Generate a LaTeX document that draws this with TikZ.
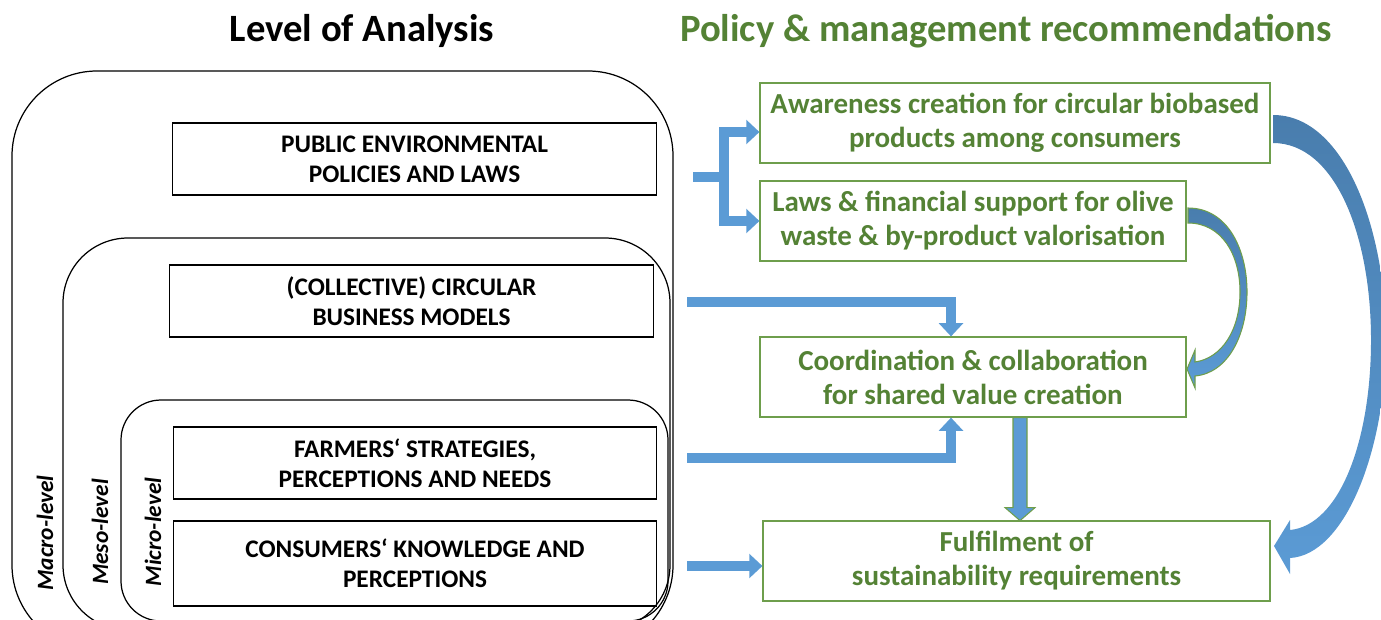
\documentclass[tikz,border=0pt]{standalone}
\usepackage{fontspec}
\setmainfont{Carlito}
\usepackage{tikz}
\usetikzlibrary{positioning,arrows.meta,calc}
\definecolor{flowblue}{HTML}{5B9BD5}
\definecolor{flowdark}{HTML}{497DAD}
\definecolor{recgreen}{HTML}{548235}
\definecolor{recline}{HTML}{6E9E4C}
\tikzset{
    block/.style = {
        draw,
        shape=rectangle,
        minimum height=1.44cm,
        minimum width=9.68cm,
        inner sep=0pt,
        align=center,
        line width=0.6pt,
        font=\fontsize{14.4}{17.2}\selectfont\bfseries
    },
    rec/.style = {
        draw=recline,
        text=recgreen,
        shape=rectangle,
        minimum height=1.6cm,
        inner sep=0pt,
        align=center,
        line width=0.7pt,
        font=\fontsize{16.5}{19.4}\selectfont\bfseries
    },
    frame/.style = {
        draw,
        line width=0.7pt
    },
    level/.style = {
        rotate=90,
        font=\fontsize{13.3}{15}\selectfont\bfseries\itshape
    },
    heading/.style = {
        font=\fontsize{22}{26}\selectfont\bfseries
    },
    flowbar/.style = {
        draw=flowblue,
        line width=5.7pt
    },
    flow/.style = {
        flowbar,
        -{Triangle[width=13.5pt,length=7.5pt]}
    },
}

\begin{document}
\begin{tikzpicture}[x=0.02cm,y=-0.02cm]
                \useasboundingbox (0,0) rectangle (1381,619);

                \node[heading] (lhead) at (362,31) {Level of Analysis};
                \node[heading, text=recgreen] (rhead) at (1006,31) {Policy \& management recommendations};

                % levels of analysis
                \begin{scope}
                    \clip (0,0) rectangle (1381,619);
                    \path[frame, rounded corners=1.7cm] (12,71) rectangle (673,650);
                    \path[frame, rounded corners=1.3cm] (63,238) rectangle (670,630);
                    \path[frame, rounded corners=0.8cm] (121,400) rectangle (668,621);
                \end{scope}
                \node[level] (macro) at (45,533) {Macro-level};
                \node[level] (meso) at (100,532) {Meso-level};
                \node[level] (micro) at (153,532) {Micro-level};

                \node[block] (public) at (414.5,159) {PUBLIC ENVIRONMENTAL\\POLICIES AND LAWS};
                \node[block] (collective) at (411.5,301) {(COLLECTIVE) CIRCULAR\\BUSINESS MODELS};
                \node[block] (farmers) at (415,463) {FARMERS‘ STRATEGIES,\\PERCEPTIONS AND NEEDS};
                \node[block, minimum height=1.7cm] (consumers) at (415,563.5) {CONSUMERS‘ KNOWLEDGE AND\\PERCEPTIONS};

                % recommendations
                \node[rec, minimum width=10.2cm] (aware) at (1015,123) {Awareness creation for circular biobased\\products among consumers};
                \node[rec, minimum width=8.52cm] (laws) at (973,221) {Laws \& financial support for olive\\waste \& by-product valorisation};
                \node[rec, minimum width=8.52cm] (coord) at (973,377) {Coordination \& collaboration\\for shared value creation};
                \node[rec, minimum width=10.14cm] (fulfil) at (1016.5,561) {Fulfilment of\\sustainability requirements};

                \coordinate (forkin) at (693,177);
                \coordinate (forkmid) at (724,177);
                \coordinate (colin) at (687,302);
                \coordinate (farmin) at (687,458);
                \coordinate (consin) at (687,566);
                \coordinate (downx) at (1020,0);

                \path[flowbar] (forkin) -- (forkmid);
                \path[flow] (forkmid) |- ($(aware.west)+(0,9)$);
                \path[flow] (forkmid) |- (laws.west);
                \path[flow] (colin) -| ([xshift=-0.44cm]coord.north);
                \path[flow] (farmin) -| ([xshift=-0.44cm]coord.south);
                \path[flow] (consin) -- (fulfil.west |- consin);

                \path[draw=recline, fill=flowblue, line width=0.6pt] (coord.south -| downx) ++(-7,0) -- ++(0,90) -- ++(-8,0)
                    -- ++(15,13) -- ++(15,-13) -- ++(-8,0) -- ++(0,-90) -- cycle;

                % curved block arrows
                \path[draw=recline, line width=0.6pt, top color=flowdark, bottom color=flowblue]
                    (1188,208) .. controls (1228,208) and (1247,250) .. (1247,292)
                    .. controls (1247,335) and (1228,373) .. (1195,376)
                    -- (1195,388) -- (1187,369) -- (1195,350) -- (1195,362)
                    .. controls (1222,358) and (1240,330) .. (1240,292)
                    .. controls (1240,255) and (1222,223) .. (1188,223) -- cycle;
                \shade[top color=flowdark, bottom color=flowblue]
                    (1273,115) .. controls (1345,115) and (1386,230) .. (1386,340)
                    .. controls (1386,450) and (1345,555) .. (1290,558)
                    -- (1290,574) -- (1274,546) -- (1290,520) -- (1290,530)
                    .. controls (1340,525) and (1371,440) .. (1371,340)
                    .. controls (1371,235) and (1335,143) .. (1273,143) -- cycle;
            \end{tikzpicture}
\end{document}
